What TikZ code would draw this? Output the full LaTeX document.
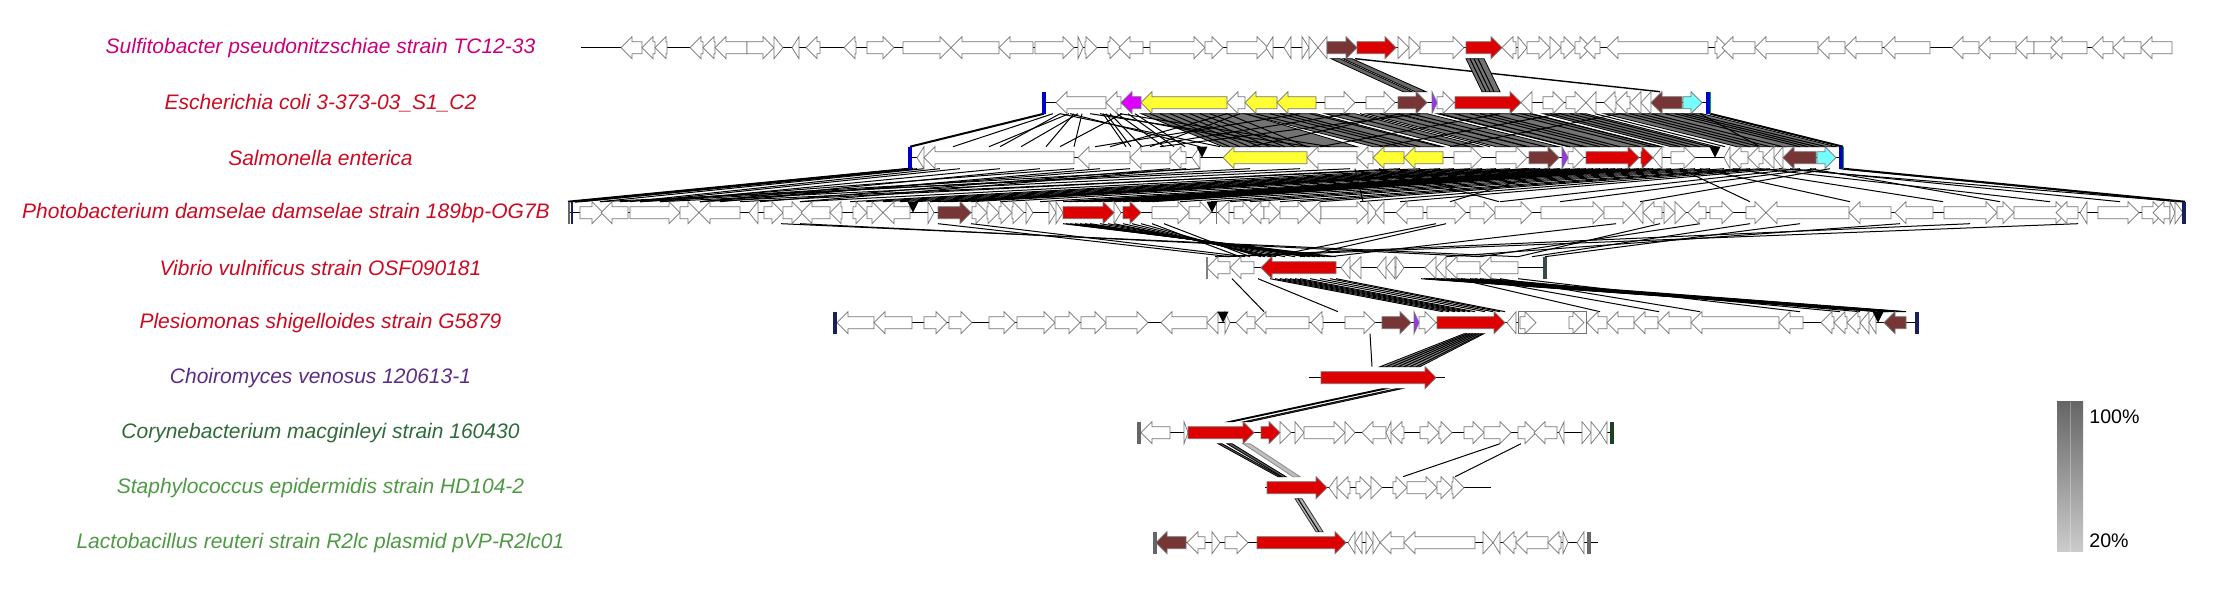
\documentclass[tikz,border=0pt]{standalone}
\usepackage{fontspec}
\setmainfont{Liberation Sans}
\usepackage{xcolor}

\definecolor{gBrown}{HTML}{773535}
\definecolor{gRed}{HTML}{DD0000}
\definecolor{gYellow}{HTML}{FFFF33}
\definecolor{gMagenta}{HTML}{DD00FF}
\definecolor{gCyan}{HTML}{77FFFF}
\definecolor{gPurple}{HTML}{9933EE}
\definecolor{cSulfito}{HTML}{C8007E}
\definecolor{cRed}{HTML}{CC0A22}
\definecolor{cPurple}{HTML}{5C2D86}
\definecolor{cDkgreen}{HTML}{2F6B3A}
\definecolor{cGreen}{HTML}{4E9A44}
\definecolor{barBlue}{HTML}{0000CC}
\definecolor{barNavy}{HTML}{1A1F5C}
\definecolor{barSlate}{HTML}{3A4A4A}

% gene arrow: y, start, end, direction (1 right / -1 left), fill
\newcommand{\gene}[5]{%
  \pgfmathsetmacro{\gnhead}{min(11,#3-#2)}%
  \ifnum#4>0
    \pgfmathsetmacro{\gnknee}{#3-\gnhead}%
    \filldraw[gene, fill=#5] (#2,#1-6) -- (\gnknee,#1-6) -- (\gnknee,#1-11) -- (#3,#1) -- (\gnknee,#1+11) -- (\gnknee,#1+6) -- (#2,#1+6) -- cycle;
  \else
    \pgfmathsetmacro{\gnknee}{#2+\gnhead}%
    \filldraw[gene, fill=#5] (#3,#1-6) -- (\gnknee,#1-6) -- (\gnknee,#1-11) -- (#2,#1) -- (\gnknee,#1+11) -- (\gnknee,#1+6) -- (#3,#1+6) -- cycle;
  \fi}
% single hit line between two tracks: top y, upper x, lower x
\newcommand{\hitl}[3]{\draw[hit] (#2,#1) -- (#3,#1+33);}
% hit band between two tracks: [style], top y, upper x1, x2, lower x1, x2
\newcommand{\hitb}[6][hitband]{\filldraw[#1] (#3,#2) -- (#4,#2) -- (#6,#2+33) -- (#5,#2+33) -- cycle;}
% insertion site marker
\newcommand{\site}[2]{\fill (#2-5.5,#1-11) -- (#2+5.5,#1-11) -- (#2,#1) -- cycle;}

\begin{document}
\begin{tikzpicture}[
    x=0.5pt, y=-0.5pt,
    track/.style={draw=black, line width=0.8pt},
    gene/.style={draw=black!55, line width=0.35pt},
    hit/.style={draw=black, line width=0.5pt},
    hitband/.style={fill=black!55, draw=black, line width=0.4pt},
    edge/.style={draw=black, line width=1pt},
    endbar/.style={line width=1.6pt},
    spname/.style={font=\fontsize{10.5}{12}\selectfont\itshape, inner sep=0pt},
    pct/.style={font=\fontsize{9.8}{11}\selectfont, inner sep=0pt, anchor=west}
]
    \useasboundingbox (0,0) rectangle (2215,597);

    % ==================== SPECIES LABELS ====================
    \node[spname, text=cSulfito] (sulfito) at (320.5,47.7) {Sulfitobacter pseudonitzschiae strain TC12-33};
    \node[spname, text=cRed] (ecoli) at (320.5,102.7) {Escherichia coli 3-373-03\_S1\_C2};
    \node[spname, text=cRed] (salmo) at (320.5,157.7) {Salmonella enterica};
    \node[spname, text=cRed] (photo) at (286,212.7) {Photobacterium damselae damselae strain 189bp-OG7B};
    \node[spname, text=cRed] (vibrio) at (320.5,267.7) {Vibrio vulnificus strain OSF090181};
    \node[spname, text=cRed] (plesio) at (320.5,322.7) {Plesiomonas shigelloides strain G5879};
    \node[spname, text=cPurple] (choiro) at (320.5,377.7) {Choiromyces venosus 120613-1};
    \node[spname, text=cDkgreen] (coryne) at (320.5,432.7) {Corynebacterium macginleyi strain 160430};
    \node[spname, text=cGreen] (staph) at (320.5,487.7) {Staphylococcus epidermidis strain HD104-2};
    \node[spname, text=cGreen] (lacto) at (320.5,542.7) {Lactobacillus reuteri strain R2lc plasmid pVP-R2lc01};

    % ==================== BLAST HITS ====================
    % Sulfitobacter -> E. coli
    \hitb[hitband, fill=black!60]{58.7}{1331}{1340}{1403}{1412}
    \hitb[hitband, fill=black!60]{58.7}{1343}{1352}{1415}{1426}
    \draw[hit, line width=0.7pt] (1355,58.7) -- (1660,91.7);
    \hitb{58.7}{1466}{1484}{1482}{1500}
    \foreach \a/\b in {1470/1486, 1474/1490, 1478/1494} {\hitl{58.7}{\a}{\b}}

    % E. coli -> Salmonella
    \hitb{113.7}{1141}{1227}{1223}{1307}
    \hitb{113.7}{1227}{1245}{1307}{1357}
    \hitb{113.7}{1245}{1316}{1373}{1443}
    \hitb{113.7}{1325}{1355}{1454}{1482}
    \hitb{113.7}{1366}{1395}{1496}{1527}
    \hitb{113.7}{1398}{1427}{1529}{1559}
    \hitb{113.7}{1437}{1454}{1568}{1584}
    \hitb{113.7}{1455}{1521}{1586}{1653}
    \hitb{113.7}{1521}{1532}{1653}{1662}
    \hitb{113.7}{1543}{1586}{1671}{1716}
    \hitb{113.7}{1604}{1650}{1737}{1783}
    \hitb{113.7}{1651}{1682}{1783}{1816}
    \hitb{113.7}{1683}{1702}{1817}{1836}
    \foreach \a/\b in {1053/953, 1060/1000, 1069/989, 1074/1046, 1078/1021, 1082/1074,
        1090/1310, 1100/1280, 1103/1126, 1106/1131, 1110/1142, 1117/1164, 1122/1060,
        1128/1174, 1135/1185, 1150/1230, 1160/1240, 1170/1250, 1180/1260, 1190/1270,
        1200/1285, 1210/1295, 1227/1110, 1240/1150, 1255/1385, 1270/1400, 1280/1410,
        1290/1420, 1300/1095, 1310/1440, 1340/1470, 1350/1140, 1360/1490, 1380/1510,
        1410/1545, 1420/1160, 1440/1570, 1470/1600, 1480/1610, 1490/1620, 1500/1320,
        1510/1640, 1530/1660, 1550/1680, 1560/1380, 1560/1690, 1570/1700, 1580/1710,
        1595/1725, 1620/1450, 1620/1750, 1630/1760, 1640/1770, 1665/1800, 1675/1808,
        1690/1826, 1700/1760, 1060/1220, 1070/1200, 1120/1330, 1400/1250}
        {\hitl{113.7}{\a}{\b}}
    \draw[edge] (1044,113.7) -- (910,146.7);
    \draw[edge] (1710,113.7) -- (1843,146.7);

    % Salmonella -> Photobacterium
    \foreach \a/\b in {917/581, 924/600, 940/630, 960/640, 1000/660, 1040/700, 1074/640,
        1100/720, 1130/700, 1170/760, 1186/800, 1200/620, 1250/640, 1300/600, 1350/660,
        1400/740, 1420/700, 1440/800, 1454/850, 1470/866, 1482/883, 1496/900, 1510/915,
        1527/930, 1529/938, 1535/944, 1540/950, 1550/960, 1559/971, 1570/1000, 1580/1040,
        1586/1063, 1593/1069, 1600/1075, 1608/1083, 1615/1090, 1622/1098, 1630/1105,
        1639/1114, 1645/1123, 1649/1132, 1653/1141, 1662/1146, 1671/1152, 1683/1180,
        1695/1211, 1710/1230, 1724/1250, 1740/1280, 1750/1300, 1760/1320, 1770/1360,
        1783/1400, 1800/1500, 1816/1560, 1830/1640, 1355/1363, 1379/1499, 1560/1450,
        1680/1750, 1700/1850, 1733/1943, 1760/2050, 1779/2180, 1790/2120, 1810/2000,
        1840/2178}
        {\hitl{168.7}{\a}{\b}}
    \draw[edge] (910,168.7) -- (568,201.7);
    \draw[edge] (913,168.7) -- (575,201.7);
    \draw[edge] (1843,168.7) -- (2185,201.7);

    % Photobacterium -> Vibrio
    \foreach \a/\b in {781/1518, 800/1480, 938/1230, 971/1245, 1063/1336, 1066/1330,
        1070/1325, 1075/1320, 1080/1315, 1085/1310, 1090/1305, 1100/1295, 1108/1285,
        1114/1276, 1123/1270, 1132/1265, 1141/1261, 1152/1240, 1164/1250, 1436/1270,
        1446/1300, 1616/1330, 1660/1518, 1700/1480, 1750/1532, 1800/1545, 1900/1446,
        1970/1215, 2078/1225}
        {\hitl{223.7}{\a}{\b}}

    % Vibrio -> Plesiomonas
    \foreach \a/\b in {1232/1264, 1258/1338, 1270/1443, 1275/1449, 1280/1455, 1285/1460,
        1290/1465, 1295/1470, 1300/1475, 1310/1485, 1320/1493, 1330/1500, 1336/1505,
        1421/1880, 1424/1881, 1426/1883, 1429/1885, 1431/1886, 1434/1888, 1436/1889,
        1441/1892, 1446/1895, 1451/1898, 1456/1901, 1461/1904, 1470/1906, 1480/1860,
        1490/1840, 1457/1600, 1475/1659, 1500/1700, 1518/1800}
        {\hitl{278.7}{\a}{\b}}

    % Plesiomonas -> Choiromyces
    \hitb[hitband, fill=black!45]{333.7}{1464}{1484}{1380}{1420}
    \foreach \a/\b in {1467/1386, 1470/1392, 1473/1398, 1476/1404, 1479/1410, 1482/1416, 1370/1372}
        {\hitl{333.7}{\a}{\b}}

    % Choiromyces -> Corynebacterium
    \hitb{388.7}{1382}{1387}{1228}{1233}
    \hitb{388.7}{1396}{1402}{1244}{1250}

    % Corynebacterium -> Staphylococcus
    \hitb[hitband, fill=black!65]{443.7}{1218}{1222}{1278}{1281}
    \hitb[hitband, fill=black!65]{443.7}{1227}{1232}{1282}{1286}
    \hitb[hitband, fill=black!25, draw=black!45]{443.7}{1243}{1250}{1293}{1300}
    \hitl{443.7}{1500}{1403}
    \hitl{443.7}{1521}{1455}

    % Staphylococcus -> Lactobacillus
    \hitb[hitband, fill=black!30, draw=black!80]{498.7}{1295}{1302}{1316}{1323}
    \hitl{498.7}{1298}{1319}

    % ==================== TRACKS ====================
    % 1. Sulfitobacter
    \draw[track] (581,47.7) -- (2172,47.7);
    \foreach \a/\b/\d in {621/642/-1, 642/655/-1, 655/667/-1, 690/703/-1, 703/715/-1, 715/747/-1,
        747/774/1, 774/783/1, 792/799/-1, 806/820/-1, 844/856/-1, 867/894/1, 903/951/1,
        951/999/-1, 999/1033/-1, 1035/1074/1, 1078/1083/1, 1085/1097/1, 1108/1121/1,
        1119/1143/-1, 1150/1205/1, 1205/1223/1, 1227/1268/1, 1266/1273/-1, 1284/1291/-1,
        1302/1309/1, 1309/1318/1, 1318/1327/-1, 1398/1409/1, 1409/1420/1, 1420/1464/1,
        1502/1516/-1, 1518/1527/1, 1527/1550/1, 1550/1561/1, 1561/1575/1, 1575/1591/1,
        1584/1600/-1, 1607/1708/-1, 1715/1728/1, 1722/1755/-1, 1755/1818/-1, 1818/1845/-1,
        1845/1882/-1, 1884/1930/-1, 1952/1979/-1, 1979/2016/-1, 2016/2034/-1, 2034/2062/1,
        2051/2087/-1, 2092/2113/-1, 2113/2141/-1, 2141/2172/-1}
        {\gene{47.7}{\a}{\b}{\d}{white}}
    \gene{47.7}{1327}{1357}{1}{gBrown}
    \gene{47.7}{1357}{1396}{1}{gRed}
    \gene{47.7}{1466}{1502}{1}{gRed}

    % 2. E. coli
    \draw[track] (1044,102.7) -- (1710,102.7);
    \foreach \a/\b/\d in {1056/1106/-1, 1106/1121/-1, 1227/1245/-1, 1325/1355/1, 1366/1395/1,
        1437/1454/1, 1521/1532/-1, 1543/1564/1, 1566/1586/1, 1586/1596/-1, 1604/1616/-1,
        1616/1630/-1, 1630/1641/-1, 1641/1651/-1}
        {\gene{102.7}{\a}{\b}{\d}{white}}
    \gene{102.7}{1121}{1141}{-1}{gMagenta}
    \gene{102.7}{1141}{1227}{-1}{gYellow}
    \gene{102.7}{1245}{1277}{-1}{gYellow}
    \gene{102.7}{1277}{1316}{-1}{gYellow}
    \gene{102.7}{1398}{1427}{1}{gBrown}
    \gene{102.7}{1432}{1437}{1}{gPurple}
    \gene{102.7}{1455}{1521}{1}{gRed}
    \gene{102.7}{1651}{1682}{-1}{gBrown}
    \gene{102.7}{1683}{1702}{1}{gCyan}
    \draw[endbar, barBlue] (1044,91.7) -- (1044,113.7);
    \draw[endbar, barBlue] (1708,91.7) -- (1708,113.7);
    \draw[green!70!black, line width=0.5pt] (1710,91.7) -- (1710,113.7);

    % 3. Salmonella
    \draw[track] (910,157.7) -- (1843,157.7);
    \foreach \a/\b/\d in {917/924/-1, 924/1074/-1, 1078/1130/-1, 1130/1170/-1, 1170/1186/-1,
        1192/1200/-1, 1307/1357/-1, 1357/1373/-1, 1454/1482/1, 1496/1527/1, 1568/1584/1,
        1653/1662/-1, 1671/1695/1, 1724/1730/-1, 1730/1748/-1, 1748/1763/-1, 1763/1774/-1,
        1774/1783/-1}
        {\gene{157.7}{\a}{\b}{\d}{white}}
    \gene{157.7}{1223}{1307}{-1}{gYellow}
    \gene{157.7}{1373}{1404}{-1}{gYellow}
    \gene{157.7}{1404}{1443}{-1}{gYellow}
    \gene{157.7}{1529}{1559}{1}{gBrown}
    \gene{157.7}{1562}{1568}{1}{gPurple}
    \gene{157.7}{1586}{1639}{1}{gRed}
    \gene{157.7}{1641}{1653}{1}{gRed}
    \gene{157.7}{1783}{1816}{-1}{gBrown}
    \gene{157.7}{1817}{1836}{1}{gCyan}
    \site{157.7}{1202}
    \site{157.7}{1715}
    \draw[endbar, barBlue] (910,146.7) -- (910,168.7);
    \draw[endbar, barBlue] (1841,146.7) -- (1841,168.7);
    \draw[green!70!black, line width=0.5pt] (1843,146.7) -- (1843,168.7);

    % 4. Photobacterium
    \draw[track] (568,212.7) -- (2185,212.7);
    \foreach \a/\b/\d in {580/603/1, 601/628/-1, 630/680/1, 680/699/1, 699/740/-1, 749/758/-1,
        764/783/1, 783/803/1, 801/830/-1, 830/842/-1, 853/867/1, 867/883/1, 883/910/-1,
        928/934/1, 972/987/1, 987/999/1, 999/1012/1, 1012/1024/1, 1026/1033/1, 1049/1056/1,
        1056/1063/1, 1114/1121/1, 1152/1189/1, 1189/1211/1, 1218/1229/-1, 1234/1254/1,
        1250/1264/-1, 1264/1280/1, 1280/1309/1, 1309/1321/-1, 1321/1368/1, 1368/1377/1,
        1375/1384/-1, 1396/1423/-1, 1427/1466/1, 1470/1495/1, 1495/1532/1, 1541/1604/1,
        1604/1634/1, 1634/1643/-1, 1643/1662/-1, 1664/1675/1, 1675/1686/1, 1688/1706/-1,
        1710/1733/1, 1746/1766/1, 1766/1849/-1, 1849/1891/-1, 1895/1933/-1, 1944/1997/1,
        1997/2014/1, 2014/2067/1, 2056/2078/-1, 2080/2087/-1, 2098/2139/1, 2142/2164/1,
        2153/2170/-1, 2170/2175/1, 2175/2183/1}
        {\gene{212.7}{\a}{\b}{\d}{white}}
    \gene{212.7}{938}{971}{1}{gBrown}
    \gene{212.7}{1063}{1114}{1}{gRed}
    \gene{212.7}{1123}{1141}{1}{gRed}
    \draw[gene] (1216,201.7) -- (1216,223.7);
    \site{212.7}{913}
    \site{212.7}{1212}
    \draw[endbar, black!60, line width=0.8pt] (569,201.7) -- (569,223.7);
    \draw[endbar, barNavy, line width=0.8pt] (572,201.7) -- (572,223.7);
    \draw[endbar, barNavy] (2184,201.7) -- (2184,223.7);

    % 5. Vibrio
    \draw[track] (1207,267.7) -- (1545,267.7);
    \foreach \a/\b/\d in {1207/1230/-1, 1230/1254/-1, 1341/1350/-1, 1350/1361/-1, 1377/1386/-1,
        1386/1395/-1, 1396/1404/1, 1425/1436/-1, 1436/1446/-1, 1446/1480/-1, 1480/1518/-1}
        {\gene{267.7}{\a}{\b}{\d}{white}}
    \gene{267.7}{1261}{1336}{-1}{gRed}
    \draw[endbar, black!50, line width=0.8pt] (1207,256.7) -- (1207,278.7);
    \draw[endbar, barSlate] (1545,256.7) -- (1545,278.7);

    % 6. Plesiomonas
    \draw[track] (835,322.7) -- (1917,322.7);
    \foreach \a/\b/\d in {837/874/-1, 874/912/-1, 924/947/1, 949/972/1, 989/1015/1, 1017/1055/1,
        1055/1080/1, 1081/1106/1, 1106/1148/1, 1161/1207/-1, 1207/1218/-1, 1225/1230/1,
        1236/1255/-1, 1255/1309/-1, 1311/1323/-1, 1345/1375/1, 1419/1436/1, 1507/1516/-1,
        1587/1607/-1, 1607/1634/-1, 1634/1658/-1, 1658/1691/-1, 1691/1779/-1, 1779/1803/-1,
        1821/1834/-1, 1834/1847/-1, 1847/1860/-1, 1860/1869/-1, 1869/1876/-1}
        {\gene{322.7}{\a}{\b}{\d}{white}}
    \filldraw[gene, fill=white] (1518,311.7) rectangle (1586,333.7);
    \gene{322.7}{1520}{1536}{1}{white}
    \gene{322.7}{1569}{1584}{1}{white}
    \gene{322.7}{1382}{1411}{1}{gBrown}
    \gene{322.7}{1414}{1419}{1}{gPurple}
    \gene{322.7}{1437}{1505}{1}{gRed}
    \gene{322.7}{1884}{1906}{-1}{gBrown}
    \site{322.7}{1223}
    \site{322.7}{1878}
    \draw[endbar, barNavy] (835,311.7) -- (835,333.7);
    \draw[endbar, barNavy] (1917,311.7) -- (1917,333.7);

    % 7. Choiromyces
    \draw[track] (1309,377.7) -- (1445,377.7);
    \gene{377.7}{1321}{1436}{1}{gRed}

    % 8. Corynebacterium
    \draw[track] (1139,432.7) -- (1612,432.7);
    \foreach \a/\b/\d in {1141/1170/-1, 1184/1188/1, 1280/1291/1, 1295/1304/1, 1304/1345/1,
        1345/1355/1, 1362/1386/-1, 1386/1391/-1, 1391/1404/-1, 1420/1439/1, 1439/1452/1,
        1464/1484/1, 1484/1511/1, 1518/1536/1, 1534/1557/-1, 1559/1564/-1, 1582/1591/1,
        1591/1600/1, 1600/1607/-1}
        {\gene{432.7}{\a}{\b}{\d}{white}}
    \gene{432.7}{1188}{1254}{1}{gRed}
    \gene{432.7}{1261}{1280}{1}{gRed}
    \draw[endbar, black!60] (1139,421.7) -- (1139,443.7);
    \draw[endbar, cDkgreen!60!black] (1612,421.7) -- (1612,443.7);

    % 9. Staphylococcus
    \draw[track] (1265,487.7) -- (1491,487.7);
    \foreach \a/\b/\d in {1329/1337/-1, 1337/1350/-1, 1356/1371/1, 1371/1382/1, 1393/1407/1,
        1407/1437/1, 1437/1452/1, 1452/1464/1}
        {\gene{487.7}{\a}{\b}{\d}{white}}
    \gene{487.7}{1267}{1327}{1}{gRed}

    % 10. Lactobacillus
    \draw[track] (1155,542.7) -- (1598,542.7);
    \foreach \a/\b/\d in {1187/1205/-1, 1212/1220/1, 1225/1248/1, 1348/1355/-1, 1355/1362/-1,
        1366/1373/1, 1373/1380/1, 1380/1404/-1, 1404/1475/-1, 1483/1493/1, 1493/1500/-1,
        1503/1516/-1, 1516/1548/-1, 1548/1561/-1, 1563/1568/1, 1577/1584/-1}
        {\gene{542.7}{\a}{\b}{\d}{white}}
    \gene{542.7}{1156}{1186}{-1}{gBrown}
    \gene{542.7}{1257}{1346}{1}{gRed}
    \draw[endbar, black!60] (1155,531.7) -- (1155,553.7);
    \draw[endbar, black!60] (1589,531.7) -- (1589,553.7);

    % ==================== IDENTITY SCALE ====================
    \shade[top color=black!60, bottom color=black!20] (2057,402) rectangle (2083,552);
    \draw[white, opacity=0.3, line width=0.4pt] (2070,402) -- (2070,552);
    \node[pct] (idmax) at (2089,417) {100\%};
    \node[pct] (idmin) at (2089,541) {20\%};

\end{tikzpicture}
\end{document}
